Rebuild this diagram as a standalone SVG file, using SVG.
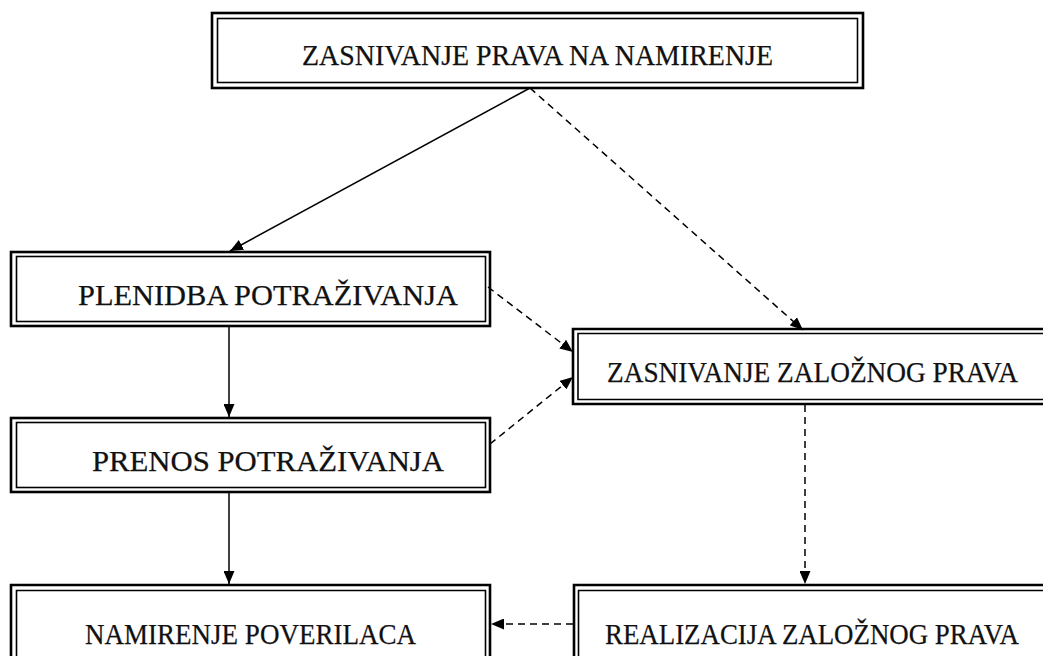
<svg xmlns="http://www.w3.org/2000/svg" width="1043" height="656" viewBox="0 0 1043 656">
<style>
.o{fill:none;stroke:#000;stroke-width:2.6}
.i{fill:none;stroke:#000;stroke-width:1.6}
.t{font-family:"Liberation Serif","DejaVu Serif",serif;font-size:30px;fill:#111;stroke:#111;stroke-width:0.25}
.s{stroke:#000;stroke-width:1.5;fill:none}
.d{stroke:#000;stroke-width:1.5;fill:none;stroke-dasharray:7 5}
</style>
<defs>
<marker id="ah" viewBox="0 0 13 11" refX="13" refY="5.5" markerWidth="13" markerHeight="11" markerUnits="userSpaceOnUse" orient="auto">
<path d="M0,0 L13,5.5 L0,11 Z" fill="#000"/>
</marker>
</defs>
<rect width="1043" height="656" fill="#fff"/>
<g id="n1">
<rect class="o" x="212" y="13" width="651" height="75"/>
<rect class="i" x="217.5" y="18.5" width="640" height="64"/>
<text class="t" x="302" y="65" textLength="471" lengthAdjust="spacingAndGlyphs">ZASNIVANJE PRAVA NA NAMIRENJE</text>
</g>
<g id="n2">
<rect class="o" x="11" y="252" width="479" height="74"/>
<rect class="i" x="16.5" y="256.5" width="469" height="65"/>
<text class="t" x="78" y="305" textLength="380" lengthAdjust="spacingAndGlyphs">PLENIDBA POTRAŽIVANJA</text>
</g>
<g id="n3">
<rect class="o" x="11" y="418" width="479" height="74"/>
<rect class="i" x="16.5" y="422.5" width="469" height="65"/>
<text class="t" x="92" y="471" textLength="352" lengthAdjust="spacingAndGlyphs">PRENOS POTRAŽIVANJA</text>
</g>
<g id="n4">
<path class="o" d="M1043,329 H573 V404 H1043"/>
<path class="i" d="M1043,333.5 H578 V399.5 H1043"/>
<text class="t" x="607" y="382" textLength="411" lengthAdjust="spacingAndGlyphs">ZASNIVANJE ZALOŽNOG PRAVA</text>
</g>
<g id="n5">
<path class="o" d="M11,656 V585 H490 V656"/>
<path class="i" d="M16.5,656 V590.5 H485.5 V656"/>
<text class="t" x="85" y="644" textLength="331" lengthAdjust="spacingAndGlyphs">NAMIRENJE POVERILACA</text>
</g>
<g id="n6">
<path class="o" d="M1043,585 H574 V656"/>
<path class="i" d="M1043,590.5 H578.5 V656"/>
<text class="t" x="605" y="644" textLength="414" lengthAdjust="spacingAndGlyphs">REALIZACIJA ZALOŽNOG PRAVA</text>
</g>
<g id="connectors">
<line class="s" x1="530" y1="88" x2="230" y2="251" marker-end="url(#ah)"/>
<line class="d" x1="530" y1="88" x2="803" y2="330" marker-end="url(#ah)"/>
<line class="s" x1="229" y1="327" x2="229" y2="417" marker-end="url(#ah)"/>
<line class="s" x1="229" y1="493" x2="229" y2="584" marker-end="url(#ah)"/>
<line class="d" x1="488" y1="287" x2="573" y2="352" marker-end="url(#ah)"/>
<line class="d" x1="490" y1="444" x2="573" y2="377" marker-end="url(#ah)"/>
<line class="d" x1="805" y1="405" x2="805" y2="584" marker-end="url(#ah)"/>
<line class="d" x1="573" y1="624" x2="491" y2="624" marker-end="url(#ah)"/>
</g>
</svg>
